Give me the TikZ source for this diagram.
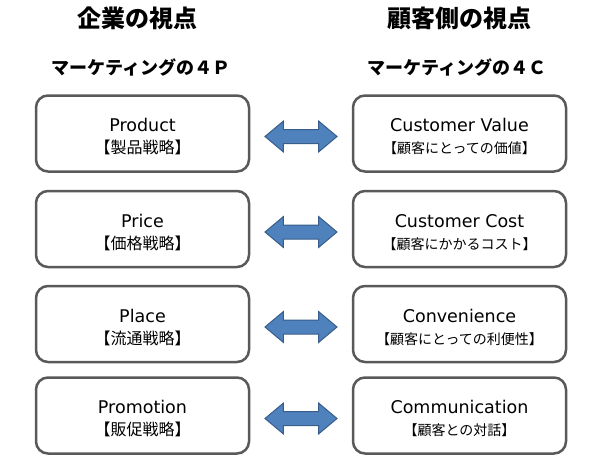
\documentclass[tikz,border=0pt]{standalone}
\usepackage{fontspec}
\setmainfont{Noto Sans CJK JP}
\newfontfamily\latinfont{DejaVu Sans}
\usetikzlibrary{shapes.arrows, positioning, calc}
\definecolor{boxgray}{RGB}{89, 89, 89}
\definecolor{arrowblue}{RGB}{79, 129, 189}
\definecolor{arrowedge}{RGB}{56, 93, 138}
\newcommand{\jpbig}{\rmfamily\fontsize{16}{22}\selectfont}
\newcommand{\jpsmall}{\rmfamily\fontsize{14}{22}\selectfont}

\begin{document}
\begin{tikzpicture}[x=1pt, y=-1pt,
    pbox/.style={rectangle, rounded corners=12pt, draw=boxgray, line width=2.5pt, outer sep=0pt,
        minimum width=213pt, minimum height=76pt, align=center, text height=42pt, text depth=2pt,
        font=\latinfont\fontsize{17.5}{22}\selectfont},
    cbox/.style={pbox},
    head/.style={font=\bfseries\fontsize{24}{28}\selectfont},
    subhead/.style={font=\bfseries\fontsize{18}{22}\selectfont},
    dblarrow/.style={double arrow, draw=arrowedge, fill=arrowblue, line width=1pt, inner sep=6.5pt,
        double arrow head extend=8.5pt, double arrow tip angle=80, minimum height=72pt}
]
\useasboundingbox (0,0) rectangle (600,458);

% --- Company view: 4P ---
\node[head] (tp) at (137,18) {企業の視点};
\node[subhead] (sp) at (141,67) {マーケティングの４Ｐ};

\node[pbox] (p1) at (142.5,133.5) {Product\\\jpbig【製品戦略】};
\node[pbox] (p2) at (142.5,229) {Price\\\jpbig【価格戦略】};
\node[pbox] (p3) at (142.5,324) {Place\\\jpbig【流通戦略】};
\node[pbox] (p4) at (142.5,415.5) {Promotion\\\jpbig【販促戦略】};

% --- Customer view: 4C ---
\node[head] (tc) at (459,18) {顧客側の視点};
\node[subhead] (sc) at (457,67) {マーケティングの４Ｃ};

\node[cbox, right=104pt of p1] (c1) {Customer Value\\\jpsmall【顧客にとっての価値】};
\node[cbox, right=104pt of p2] (c2) {Customer Cost\\\jpsmall【顧客にかかるコスト】};
\node[cbox, right=104pt of p3] (c3) {Convenience\\\jpsmall【顧客にとっての利便性】};
\node[cbox, right=104pt of p4] (c4) {Communication\\\jpsmall【顧客との対話】};

% --- Arrows between 4P and 4C ---
\node[dblarrow] (a1) at ($(p1.east)!0.5!(c1.west)+(0,3)$) {};
\node[dblarrow] (a2) at ($(p2.east)!0.5!(c2.west)+(0,3)$) {};
\node[dblarrow] (a3) at ($(p3.east)!0.5!(c3.west)+(0,3)$) {};
\node[dblarrow] (a4) at ($(p4.east)!0.5!(c4.west)+(0,3)$) {};
\end{tikzpicture}
\end{document}
